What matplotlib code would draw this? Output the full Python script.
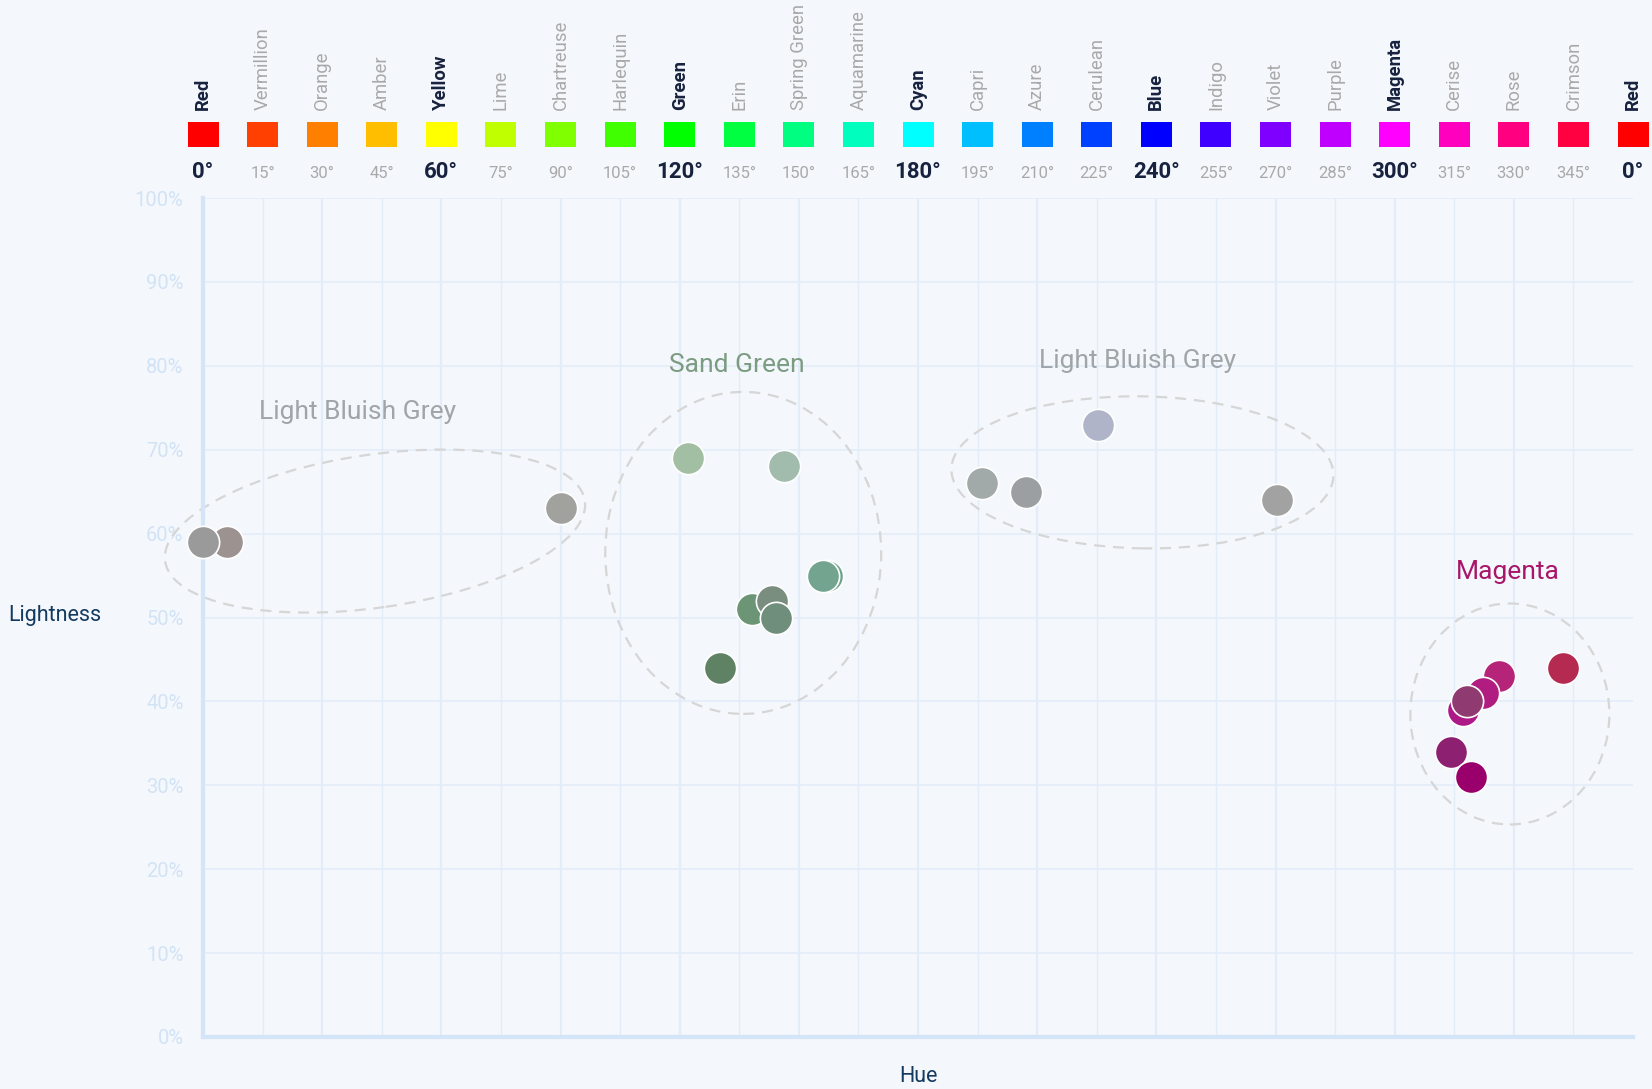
import matplotlib
matplotlib.use("Agg")
import matplotlib.pyplot as plt
from matplotlib.patches import Ellipse, Rectangle
from matplotlib.transforms import ScaledTranslation, blended_transform_factory

plt.rcParams['font.family'] = ['Roboto', 'DejaVu Sans']

# hue wheel header
hue_degrees = [0, 15, 30, 45, 60, 75, 90, 105, 120, 135, 150, 165, 180,
               195, 210, 225, 240, 255, 270, 285, 300, 315, 330, 345, 360]
hue_names = ["Red", "Vermillion", "Orange", "Amber", "Yellow", "Lime", "Chartreuse",
             "Harlequin", "Green", "Erin", "Spring Green", "Aquamarine", "Cyan",
             "Capri", "Azure", "Cerulean", "Blue", "Indigo", "Violet", "Purple",
             "Magenta", "Cerise", "Rose", "Crimson", "Red"]
hue_swatches = ["#ff0000", "#ff4000", "#ff8000", "#ffbf00", "#ffff00", "#bfff00",
                "#80ff00", "#40ff00", "#00ff00", "#00ff40", "#00ff80", "#00ffbf",
                "#00ffff", "#00bfff", "#0080ff", "#0040ff", "#0000ff", "#4000ff",
                "#8000ff", "#bf00ff", "#ff00ff", "#ff00bf", "#ff0080", "#ff0040",
                "#ff0000"]
primary_hues = [0, 60, 120, 180, 240, 300, 360]

# clusters: hue (deg), lightness (%), colour
lbg_left_hue = [6.1, 0.1, 90.1]
lbg_left_light = [59, 59, 63]
lbg_left_colors = ["#9c9391", "#9a9a9a", "#a1a19e"]

sand_hue = [122.2, 146.2, 157.2, 156.2, 138.3, 143.2, 144.2, 130.2]
sand_light = [69, 68, 55, 55, 51, 52, 50, 44]
sand_colors = ["#a3bfa3", "#a1bcad", "#70a38c", "#73a48f", "#6b9574", "#7a8e80",
               "#6f8e7b", "#5e8263"]

lbg_right_hue = [196.2, 207.2, 225.2, 270.3]
lbg_right_light = [66, 65, 73, 64]
lbg_right_colors = ["#a2a9a9", "#9c9fa1", "#b0b4c8", "#a2a2a2"]

magenta_hue = [342.3, 326.3, 322.3, 317.3, 318.3, 314.2, 319.3]
magenta_light = [44, 43, 41, 39, 40, 34, 31]
magenta_colors = ["#b52a50", "#b52479", "#b01c80", "#ad1a87", "#8f3b72", "#8e2072",
                  "#9a006b"]

y_ticks = [0, 10, 20, 30, 40, 50, 60, 70, 80, 90, 100]

bg = "#f4f7fc"
dark = "#17223f"
fig = plt.figure(figsize=(16.52, 10.89), dpi=100, facecolor=bg)
ax = fig.add_axes([203 / 1652, 1 - 1037 / 1089, 1430 / 1652, 839 / 1089])
ax.set_facecolor(bg)
ax.set_xlim(0, 360)
ax.set_ylim(0, 100)

# grid
for h in hue_degrees[1:-1]:
    ax.axvline(h, color="#e2edf9", lw=1.6 if h % 30 == 0 else 1.0, zorder=0)
for y in y_ticks[1:]:
    ax.axhline(y, color="#e2edf9", lw=1.2, zorder=0)
for s in ["top", "right"]:
    ax.spines[s].set_visible(False)
ax.spines["left"].set_color("#d4e5f7")
ax.spines["left"].set_linewidth(3)
ax.spines["bottom"].set_color("#d4e5f7")
ax.spines["bottom"].set_linewidth(3)

ax.set_xticks([])
ax.set_yticks(y_ticks)
ax.set_yticklabels([f"{v}%" for v in y_ticks], color="#d2e3f6", fontsize=14.5)
ax.tick_params(axis="y", length=0, pad=14)

fig.text(55 / 1652, 1 - 616 / 1089, "Lightness", ha="center", va="center",
         fontsize=15.5, color="#143a5e")
fig.text(918 / 1652, 1 - 1077 / 1089, "Hue", ha="center", va="center",
         fontsize=15.5, color="#143a5e")

# header strip
tr = blended_transform_factory(ax.transData, fig.transFigure)
sw_w = 31 / 1430 * 360
for h, name, col in zip(hue_degrees, hue_names, hue_swatches):
    main = h in primary_hues
    ax.add_patch(Rectangle((h - sw_w / 2, 1 - 147 / 1089), sw_w, 25 / 1089,
                           facecolor=col, edgecolor="none", transform=tr,
                           clip_on=False))
    ax.text(h, 1 - 110 / 1089, name, rotation=90, ha="center", va="bottom",
            fontsize=13.3, transform=tr, color=dark if main else "#a9a9a9",
            fontweight="bold" if main else "normal")
    ax.text(h, 1 - 178 / 1089, f"{h % 360}°", ha="center", va="baseline",
            transform=tr, color=dark if main else "#a9a9a9",
            fontsize=16 if main else 12,
            fontweight="bold" if main else "normal")


def ring(cx, cy, w, h, angle):
    t = fig.dpi_scale_trans + ScaledTranslation(cx, cy, ax.transData)
    ax.add_patch(Ellipse((0, 0), w / 100, h / 100, angle=angle, transform=t,
                         fill=False, edgecolor="#d6d6d6", lw=1.6,
                         linestyle=(0, (5, 3.5)), zorder=2, clip_on=False))


ring(43.3, 60.3, 424, 153, 8.2)
ring(136.0, 57.7, 276, 322, 0)
ring(236.5, 67.3, 382, 152, -1)
ring(329.0, 38.5, 199, 221, 0)

for hx, ly, cs in [(lbg_left_hue, lbg_left_light, lbg_left_colors),
                   (sand_hue, sand_light, sand_colors),
                   (lbg_right_hue, lbg_right_light, lbg_right_colors),
                   (magenta_hue, magenta_light, magenta_colors)]:
    for x, y, c in zip(hx, ly, cs):
        ax.scatter(x, y, s=540, color=c, edgecolor="white", linewidth=1.2,
                   zorder=3, clip_on=False)

ax.text(38.8, 74.5, "Light Bluish Grey", ha="center", va="center", fontsize=19,
        color="#a0a5a8")
ax.text(134.5, 80.1, "Sand Green", ha="center", va="center", fontsize=19,
        color="#7c9c82")
ax.text(235.4, 80.6, "Light Bluish Grey", ha="center", va="center", fontsize=19,
        color="#a0a5a8")
ax.text(328.5, 55.4, "Magenta", ha="center", va="center", fontsize=19,
        color="#a8166a")

fig.savefig("out.png", dpi=100, facecolor=bg)
